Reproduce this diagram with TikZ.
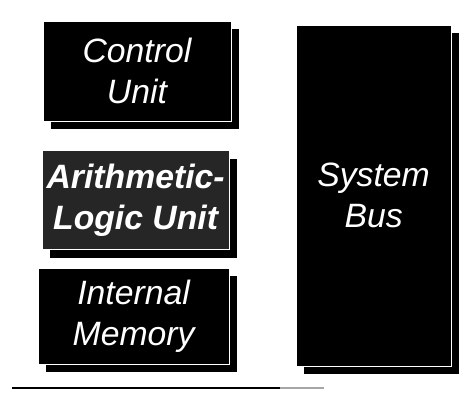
\documentclass[tikz,border=0pt]{standalone}
\usepackage{fontspec}
\setmainfont{Liberation Sans}
\usetikzlibrary{positioning,shadows}
\tikzset{
  unitbox/.style={fill=black,draw=white,line width=0.6pt,text=white,
    align=center,inner sep=0pt,
    font=\fontsize{24}{29}\selectfont\itshape,
    drop shadow={shadow xshift=0.2cm,shadow yshift=-0.2cm,fill=black,opacity=1}},
  alubox/.style={unitbox,fill=black!85,font=\fontsize{24}{29}\selectfont\bfseries\itshape},
  baseline rule/.style={line width=1.4pt},
}
\begin{document}
\begin{tikzpicture}
  \useasboundingbox (0,0) rectangle (11.825,9.9);
  % --- CPU parts, left column ---
  \node[unitbox,minimum width=4.7cm,minimum height=2.5cm] (cu) at (3.425,8.125)
    {Control\\Unit};
  \node[alubox,minimum width=4.675cm,minimum height=2.475cm] (alu) at (3.39,4.89)
    {Arithmetic-\\Logic Unit};
  \node[unitbox,minimum width=4.775cm,minimum height=2.4cm] (mem) at (3.34,2.0)
    {Internal\\Memory};
  % --- bus, right column ---
  \node[unitbox,minimum width=3.875cm,minimum height=8.525cm] (bus) at (9.34,5.01)
    {System\\Bus};
  % --- rule along the bottom ---
  \coordinate (r0) at (0.3,0.2);
  \coordinate (r1) at (7.0,0.2);
  \coordinate (r2) at (8.1,0.2);
  \draw[baseline rule] (r0) -- (r1);
  \draw[baseline rule,black!35] (r1) -- (r2);
\end{tikzpicture}
\end{document}
